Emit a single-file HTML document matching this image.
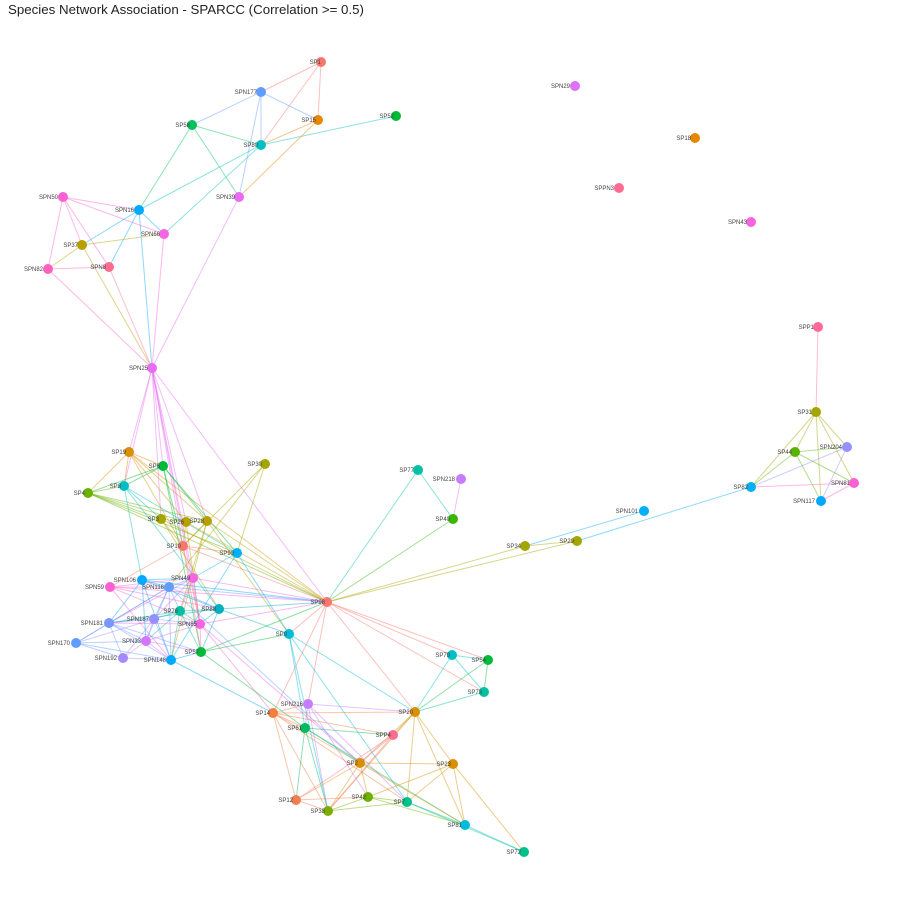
<!DOCTYPE html>
<html><head><meta charset="utf-8"><style>
html,body{margin:0;padding:0;background:#fff;}
svg{display:block;}
text{font-family:"Liberation Sans",sans-serif;}
.l{font-size:6px;fill:#444;text-anchor:end;}
</style></head><body>
<svg id="s" width="900" height="900" viewBox="0 0 900 900">
<text x="8" y="14" style="font-size:13.3px;fill:#222">Species Network Association - SPARCC (Correlation &gt;= 0.5)</text>
<g id="E"></g><g id="N"></g>
<g id="L">
<text class="l" x="321" y="64">SP1</text>
<text class="l" x="257" y="94">SPN177</text>
<text class="l" x="316" y="122">SP15</text>
<text class="l" x="394" y="118">SP52</text>
<text class="l" x="190" y="127">SP58</text>
<text class="l" x="258" y="147">SP80</text>
<text class="l" x="235" y="199">SPN39</text>
<text class="l" x="58" y="199">SPN50</text>
<text class="l" x="134" y="212">SPN16</text>
<text class="l" x="160" y="236">SPN66</text>
<text class="l" x="78" y="247">SP37</text>
<text class="l" x="106" y="269">SPN8</text>
<text class="l" x="43" y="271">SPN82</text>
<text class="l" x="148" y="370">SPN25</text>
<text class="l" x="570" y="88">SPN29</text>
<text class="l" x="691" y="140">SP18</text>
<text class="l" x="614" y="190">SPPN3</text>
<text class="l" x="747" y="224">SPN43</text>
<text class="l" x="814" y="329">SPP1</text>
<text class="l" x="812" y="414">SP31</text>
<text class="l" x="792" y="454">SP44</text>
<text class="l" x="842" y="449">SPN204</text>
<text class="l" x="850" y="485">SPN81</text>
<text class="l" x="748" y="489">SP82</text>
<text class="l" x="815" y="503">SPN117</text>
<text class="l" x="638" y="513">SPN101</text>
<text class="l" x="521" y="548">SP34</text>
<text class="l" x="574" y="543">SP29</text>
<text class="l" x="414" y="472">SP77</text>
<text class="l" x="455" y="481">SPN218</text>
<text class="l" x="450" y="521">SP40</text>
<text class="l" x="262" y="466">SP30</text>
<text class="l" x="126" y="454">SP19</text>
<text class="l" x="160" y="468">SP6</text>
<text class="l" x="85" y="495">SP4</text>
<text class="l" x="121" y="488">SP8</text>
<text class="l" x="159" y="521">SP3</text>
<text class="l" x="184" y="524">SP26</text>
<text class="l" x="204" y="523">SP28</text>
<text class="l" x="181" y="548">SP10</text>
<text class="l" x="234" y="555">SP90</text>
<text class="l" x="136" y="582">SPN106</text>
<text class="l" x="190" y="580">SPN49</text>
<text class="l" x="104" y="589">SPN59</text>
<text class="l" x="164" y="589">SPN116</text>
<text class="l" x="178" y="613">SP76</text>
<text class="l" x="216" y="611">SP88</text>
<text class="l" x="149" y="621">SPN187</text>
<text class="l" x="197" y="626">SPN85</text>
<text class="l" x="103" y="625">SPN181</text>
<text class="l" x="70" y="645">SPN170</text>
<text class="l" x="141" y="643">SPN33</text>
<text class="l" x="199" y="654">SP57</text>
<text class="l" x="117" y="660">SPN192</text>
<text class="l" x="166" y="662">SPN148</text>
<text class="l" x="325" y="604">SP98</text>
<text class="l" x="287" y="636">SP9</text>
<text class="l" x="450" y="657">SP79</text>
<text class="l" x="486" y="662">SP54</text>
<text class="l" x="482" y="694">SP73</text>
<text class="l" x="270" y="715">SP14</text>
<text class="l" x="303" y="706">SPN216</text>
<text class="l" x="302" y="730">SP61</text>
<text class="l" x="413" y="714">SP20</text>
<text class="l" x="391" y="737">SPP4</text>
<text class="l" x="358" y="765">SP2</text>
<text class="l" x="451" y="766">SP23</text>
<text class="l" x="293" y="802">SP12</text>
<text class="l" x="325" y="813">SP38</text>
<text class="l" x="366" y="799">SP42</text>
<text class="l" x="405" y="804">SP7</text>
<text class="l" x="462" y="827">SP81</text>
<text class="l" x="521" y="854">SP72</text>
</g>
</svg>
<script>
var N={SP1:[321,62,'#f8766d'],SPN177:[261,92,'#619cff'],SP15:[318,120,'#e58700'],SP52:[396,116,'#00ba38'],SP58:[192,125,'#00c15a'],SP80:[261,145,'#00bfc4'],SPN39:[239,197,'#e76bf3'],SPN50:[63,197,'#fd61d1'],SPN16:[139,210,'#00a9ff'],SPN66:[164,234,'#f564e3'],SP37:[82,245,'#b79f00'],SPN8:[109,267,'#ff6c91'],SPN82:[48,269,'#ff62bc'],SPN25:[152,368,'#e76bf3'],SPN29:[575,86,'#dc71fa'],SP18:[695,138,'#e58700'],SPPN3:[619,188,'#ff6c91'],SPN43:[751,222,'#f763e0'],SPP1:[818,327,'#ff6a98'],SP31:[816,412,'#a3a500'],SP44:[795,452,'#5bb300'],SPN204:[847,447,'#9590ff'],SPN81:[854,483,'#fd61d1'],SP82:[751,487,'#00b0f6'],SPN117:[821,501,'#00a9ff'],SPN101:[644,511,'#00b0f6'],SP34:[525,546,'#a3a500'],SP29:[577,541,'#a3a500'],SP77:[418,470,'#00c1a3'],SPN218:[461,479,'#c77cff'],SP40:[453,519,'#39b600'],SP30:[265,464,'#a3a500'],SP19:[129,452,'#d89000'],SP6:[163,466,'#00ba38'],SP4:[88,493,'#6bb100'],SP8:[124,486,'#00bfc4'],SP3:[161,519,'#a3a500'],SP26:[186,522,'#b79f00'],SP28:[207,521,'#b79f00'],SP10:[183,546,'#f8766d'],SP90:[237,553,'#00b0f6'],SPN106:[142,580,'#00a9ff'],SPN49:[193,578,'#f564e3'],SPN59:[110,587,'#fd61d1'],SPN116:[169,587,'#619cff'],SP76:[180,611,'#00bfa0'],SP88:[219,609,'#00b0c0'],SPN187:[154,619,'#9590ff'],SPN85:[200,624,'#f564e3'],SPN181:[109,623,'#7997ff'],SPN170:[76,643,'#619cff'],SPN33:[146,641,'#d575fe'],SP57:[201,652,'#00ba38'],SPN192:[123,658,'#a58aff'],SPN148:[171,660,'#00a9ff'],SP98:[327,602,'#f8766d'],SP9:[289,634,'#00bcd8'],SP79:[452,655,'#00bfc4'],SP54:[488,660,'#00ba38'],SP73:[484,692,'#00c0a0'],SP14:[273,713,'#f07f40'],SPN216:[308,704,'#c77cff'],SP61:[305,728,'#00ba60'],SP20:[415,712,'#d89000'],SPP4:[393,735,'#ff6c91'],SP2:[360,763,'#d89000'],SP23:[453,764,'#d89000'],SP12:[296,800,'#f27d52'],SP38:[328,811,'#7cae00'],SP42:[368,797,'#6bb100'],SP7:[407,802,'#00c08b'],SP81:[465,825,'#00bcd8'],SP72:[524,852,'#00c08b']};
var E="SP1-SPN177 SP1-SP15 SP1-SP80 SPN177-SP58 SPN177-SP80 SPN177-SP15 SPN177-SPN39 SP58-SP80 SP58-SPN39 SP58-SPN16 SP80-SP52 SP15-SP80 SP15-SPN39 SP80-SPN66 SP80-SPN16 SPN50-SPN16 SPN50-SPN66 SPN50-SP37 SPN50-SPN82 SPN50-SPN8 SPN16-SP37 SPN16-SPN66 SPN16-SPN8 SP37-SPN66 SP37-SPN82 SPN82-SPN8 SPN82-SPN25 SPN16-SPN25 SPN66-SPN25 SPN39-SPN25 SPN8-SPN25 SP37-SPN25 SPN25-SP19 SPN25-SP6 SPN25-SP8 SPN25-SP3 SPN25-SP26 SPN25-SP28 SPN25-SP10 SPN25-SPN49 SPN25-SPN85 SPN25-SP98 SPP1-SP31 SP31-SP44 SP31-SPN204 SP31-SP82 SP31-SPN81 SP31-SPN117 SP44-SPN204 SP44-SPN81 SP44-SP82 SP44-SPN117 SPN204-SP82 SPN204-SPN117 SPN81-SP82 SPN81-SPN117 SP82-SP29 SP29-SP34 SPN101-SP34 SP34-SP98 SP29-SP98 SP77-SP40 SPN218-SP40 SP77-SP98 SP40-SP98 SP30-SP90 SP30-SP10 SP30-SPN116 SP19-SP6 SP19-SP8 SP19-SP4 SP19-SP26 SP19-SP28 SP19-SP10 SP19-SP98 SP6-SP8 SP6-SP4 SP6-SP28 SP6-SP10 SP6-SP57 SP6-SP90 SP4-SP8 SP4-SP3 SP4-SP26 SP4-SP28 SP4-SP90 SP4-SP98 SP8-SP3 SP8-SP90 SP8-SPN106 SP8-SP88 SP3-SP26 SP3-SP10 SP3-SP98 SP3-SP88 SP26-SP28 SP26-SP10 SP26-SP98 SP26-SPN85 SP28-SP10 SP28-SP9 SP28-SPN148 SP28-SP98 SP28-SP76 SP10-SP90 SP10-SPN85 SP10-SP57 SP10-SP98 SP90-SPN49 SP90-SP9 SP90-SPN148 SP10-SPN59 SPN106-SPN116 SPN106-SPN49 SPN106-SP98 SPN106-SP88 SPN59-SPN116 SPN59-SP88 SPN59-SPN85 SPN59-SP98 SPN59-SPN148 SPN59-SPN49 SPN116-SPN49 SPN116-SP76 SPN116-SP88 SPN116-SPN187 SPN116-SPN181 SPN116-SPN33 SPN116-SPN148 SPN116-SP98 SPN49-SP76 SPN49-SPN85 SPN49-SPN187 SPN49-SPN181 SPN49-SP98 SP76-SP88 SP76-SPN85 SP76-SPN187 SP76-SPN181 SP76-SPN33 SP76-SPN148 SP76-SP57 SP88-SPN85 SP88-SP98 SP88-SP57 SP88-SPN181 SPN187-SPN181 SPN187-SPN33 SPN187-SPN192 SPN187-SPN148 SPN187-SPN170 SPN187-SPN85 SPN85-SPN33 SPN85-SP57 SPN85-SPN181 SPN85-SP14 SPN85-SP98 SPN181-SPN170 SPN181-SPN33 SPN181-SPN192 SPN181-SPN148 SPN181-SP57 SPN170-SPN33 SPN170-SPN192 SPN170-SPN148 SPN170-SPN116 SPN33-SPN192 SPN33-SPN148 SPN33-SP57 SPN192-SPN148 SPN148-SP57 SPN148-SP14 SP57-SP98 SP57-SP9 SP57-SP61 SPN106-SPN181 SPN106-SPN33 SPN106-SPN148 SP98-SP9 SP98-SP20 SP98-SP79 SP98-SP73 SP98-SP54 SP98-SPN216 SP98-SP14 SP9-SP61 SP9-SP20 SP9-SP7 SP9-SP38 SPN116-SP2 SPN85-SP2 SP88-SP9 SP79-SP54 SP79-SP73 SP79-SP20 SP54-SP73 SP54-SP20 SP73-SP20 SP14-SPN216 SP14-SP61 SP14-SP20 SP14-SPP4 SP14-SP2 SP14-SP12 SP14-SP38 SP14-SP7 SPN216-SP61 SPN216-SP20 SPN216-SP38 SPN216-SP42 SPN216-SP7 SP61-SPP4 SP61-SP12 SP61-SP38 SP61-SP2 SP61-SP81 SP20-SPP4 SP20-SP23 SP20-SP7 SP20-SP81 SP20-SP38 SP20-SP2 SPP4-SP2 SPP4-SP38 SPP4-SP12 SP2-SP23 SP2-SP42 SP2-SP38 SP2-SP81 SP2-SP12 SP23-SP42 SP23-SP7 SP23-SP81 SP23-SP72 SP12-SP42 SP12-SP38 SP38-SP42 SP38-SP7 SP42-SP7 SP42-SP81 SP7-SP81 SP7-SP72 SP81-SP72";
var ns='http://www.w3.org/2000/svg',g=document.getElementById('E'),gn=document.getElementById('N');
E.split(' ').forEach(function(p){var a=p.split('-'),A=N[a[0]],B=N[a[1]];if(!A||!B)return;var l=document.createElementNS(ns,'line');l.setAttribute('x1',A[0]);l.setAttribute('y1',A[1]);l.setAttribute('x2',B[0]);l.setAttribute('y2',B[1]);l.setAttribute('stroke',A[2]);l.setAttribute('stroke-opacity','0.45');l.setAttribute('stroke-width','1');g.appendChild(l);});
for(var k in N){var c=document.createElementNS(ns,'circle');c.setAttribute('cx',N[k][0]);c.setAttribute('cy',N[k][1]);c.setAttribute('r','5');c.setAttribute('fill',N[k][2]);gn.appendChild(c);}
</script>
</body></html>
